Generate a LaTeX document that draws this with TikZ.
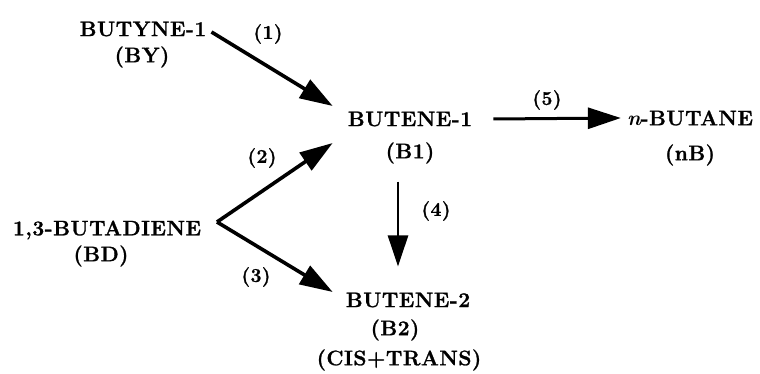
\documentclass[tikz,border=0pt]{standalone}
\usepackage{fontspec}
\newfontfamily\chemfont[LetterSpace=2.5,BoldFeatures={FakeBold=1.2}]{Latin Modern Roman}
\usetikzlibrary{arrows.meta}
\begin{document}
\begin{tikzpicture}[x=1pt,y=-1pt,
  chem/.style={inner sep=0pt,font=\chemfont\fontsize{21}{24}\selectfont\bfseries},
  rlab/.style={inner sep=0pt,font=\chemfont\fontsize{19.5}{22}\selectfont\bfseries},
  rx/.style={line width=3.6pt,-{Triangle[length=33pt,width=21pt]}},
  rxthin/.style={line width=2.6pt,-{Triangle[length=31pt,width=20pt]}}]
\useasboundingbox (0,0) rectangle (760,374);
% compounds
\node[chem] (by) at (143,29) {BUTYNE-1};
\node[chem] (byab) at (142,57) {(BY)};
\node[chem] (b1) at (410,119) {BUTENE-1};
\node[chem] (b1ab) at (410,153) {(B1)};
\node[chem] (nb) at (690,118) {{\itshape n}-BUTANE};
\node[chem] (nbab) at (690,155) {(nB)};
\node[chem] (bd) at (107,230) {1,3-BUTADIENE};
\node[chem] (bdab) at (101,256) {(BD)};
\node[chem] (b2) at (408,300) {BUTENE-2};
\node[chem] (b2ab) at (395,330) {(B2)};
\node[chem] (b2ct) at (399,360) {(CIS+TRANS)};
% connection point at the right end of 1,3-BUTADIENE
\coordinate (v) at (217,222);
% reactions
\draw[rx] ([xshift=5pt,yshift=-3pt]by.east) -- ([xshift=-15pt,yshift=13pt]b1.west);
\draw[rx] (v) -- ([xshift=-15pt,yshift=-24pt]b1.west);
\draw[rx] (v) -- ([xshift=-13pt,yshift=8pt]b2.west);
\draw[rxthin] ([xshift=-12pt,yshift=-18pt]b1ab.south) -- ([xshift=-10pt,yshift=26pt]b2.north);
\draw[rx,line width=3pt] ([xshift=21pt]b1.east) -- ([xshift=-6pt]nb.west);
% labels
\node[rlab] (l1) at (268,34) {(1)};
\node[rlab] (l2) at (262,158) {(2)};
\node[rlab] (l3) at (256,277) {(3)};
\node[rlab] (l4) at (436,211) {(4)};
\node[rlab] (l5) at (547,100) {(5)};
\end{tikzpicture}
\end{document}
